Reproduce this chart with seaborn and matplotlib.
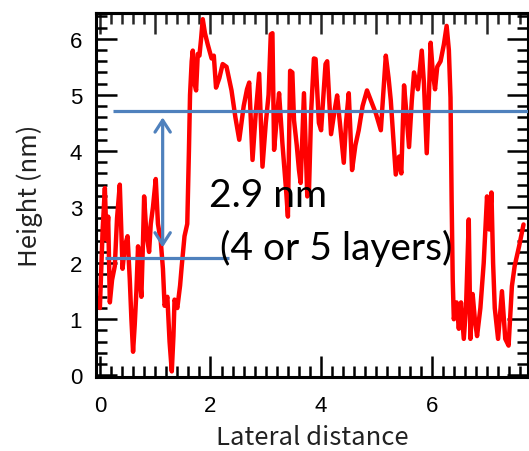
import numpy as np
import pandas as pd
import seaborn as sns
import matplotlib.pyplot as plt
from matplotlib.ticker import MultipleLocator

# height profile (lateral distance, height in nm)
distance = [
    0.00, 0.05, 0.09, 0.12, 0.15, 0.18, 0.22, 0.27, 0.31, 0.36, 0.41, 0.45, 0.50, 0.54, 0.57,
    0.60, 0.63, 0.66, 0.69, 0.72, 0.75, 0.78, 0.80, 0.83, 0.86, 0.89, 0.92, 0.96, 1.01, 1.05,
    1.10, 1.14, 1.17, 1.22, 1.26, 1.30, 1.33, 1.35, 1.40, 1.45, 1.48, 1.53, 1.58, 1.61, 1.63,
    1.66, 1.68, 1.71, 1.74, 1.77, 1.80, 1.83, 1.86, 1.90, 1.95, 2.02, 2.06, 2.10, 2.16, 2.22,
    2.29, 2.38, 2.45, 2.52, 2.60, 2.66, 2.70, 2.76, 2.82, 2.88, 2.94, 3.00, 3.05, 3.09, 3.12,
    3.15, 3.20, 3.24, 3.30, 3.37, 3.40, 3.44, 3.48, 3.51, 3.56, 3.60, 3.63, 3.69, 3.75, 3.78,
    3.82, 3.87, 3.90, 3.96, 4.00, 4.08, 4.11, 4.18, 4.24, 4.29, 4.35, 4.41, 4.45, 4.50, 4.56,
    4.62, 4.68, 4.75, 4.83, 4.90, 4.99, 5.08, 5.17, 5.22, 5.26, 5.35, 5.41, 5.45, 5.50, 5.54,
    5.59, 5.64, 5.68, 5.75, 5.82, 5.86, 5.91, 5.95, 5.98, 6.02, 6.06, 6.10, 6.16, 6.22, 6.27,
    6.31, 6.34, 6.36, 6.38, 6.40, 6.45, 6.49, 6.53, 6.58, 6.62, 6.67, 6.70, 6.74, 6.78, 6.82,
    6.88, 6.94, 7.00, 7.04, 7.08, 7.11, 7.14, 7.20, 7.27, 7.33, 7.39, 7.45, 7.50, 7.58, 7.66,
]
height = [
    1.20, 2.60, 3.34, 2.42, 2.83, 1.30, 1.70, 1.95, 2.80, 3.40, 1.90, 2.30, 2.48, 1.72, 1.00,
    0.42, 0.90, 1.50, 2.30, 1.80, 1.40, 2.40, 3.19, 2.70, 2.40, 2.20, 2.70, 3.00, 3.50, 2.70,
    2.40, 1.90, 1.24, 1.40, 0.60, 0.07, 0.70, 1.35, 1.20, 1.60, 1.95, 2.48, 2.70, 4.00, 5.00,
    5.60, 5.79, 5.20, 5.08, 5.73, 5.70, 6.00, 6.35, 6.10, 5.90, 5.65, 5.70, 5.13, 5.30, 5.55,
    5.50, 5.08, 4.60, 4.20, 4.80, 5.10, 5.22, 3.84, 4.70, 5.38, 3.72, 4.50, 5.00, 6.08, 6.10,
    4.02, 4.60, 5.03, 4.14, 3.26, 2.83, 5.43, 5.40, 4.55, 4.10, 3.66, 3.43, 5.03, 3.19, 3.26,
    4.70, 5.65, 5.64, 4.50, 4.37, 5.55, 5.60, 4.30, 4.70, 4.99, 4.40, 3.79, 4.50, 5.03, 3.66,
    4.10, 4.37, 4.80, 5.08, 4.90, 4.67, 4.37, 5.70, 5.30, 4.90, 3.58, 3.90, 3.60, 5.17, 4.70,
    4.07, 4.90, 5.40, 5.10, 5.79, 5.20, 3.96, 5.00, 5.93, 5.40, 5.10, 5.50, 5.60, 5.90, 6.23,
    5.80, 4.95, 3.13, 1.70, 1.00, 1.30, 0.83, 1.30, 0.65, 1.20, 2.78, 0.65, 1.45, 1.00, 0.70,
    1.20, 2.00, 3.19, 2.60, 3.26, 2.00, 1.20, 0.65, 1.50, 0.65, 0.53, 1.59, 1.95, 2.30, 2.69,
]

# step annotation: upper / lower terrace levels and the measured step
upper_level, lower_level = 4.72, 2.10
step_label = "2.9 nm"
layer_label = "(4 or 5 layers)"

df = pd.DataFrame({"Lateral distance": distance, "Height": height})

sns.set_style("ticks")
plt.rcParams["font.family"] = ["Liberation Sans", "DejaVu Sans"]

fig = plt.figure(figsize=(5.29, 4.52), dpi=100)
ax = fig.add_axes([0.1815, 0.1637, 0.8165, 0.8053])

sns.lineplot(data=df, x="Lateral distance", y="Height", ax=ax, color="#ff0000",
             linewidth=3.2, estimator=None, sort=False, zorder=2)

blue = "#4f81bd"
ax.hlines(upper_level, 0.23, 7.9, color=blue, linewidth=2.3, zorder=3)
ax.hlines(lower_level, 0.09, 2.34, color=blue, linewidth=2.3, zorder=3)
ax.annotate("", xy=(1.135, 4.60), xytext=(1.135, 2.28),
            arrowprops=dict(arrowstyle="<->,head_length=0.85,head_width=0.55",
                            color=blue, linewidth=2.3, shrinkA=0, shrinkB=0),
            zorder=3)

ax.text(1.97, 3.22, step_label, fontsize=28, family="Lato", va="center", ha="left",
        color="black")
ax.text(2.18, 2.28, layer_label, fontsize=28, family="Lato", va="center", ha="left",
        color="black")

ax.set_xlim(-0.07, 7.74)
ax.set_ylim(-0.03, 6.46)

ax.xaxis.set_major_locator(MultipleLocator(2))
ax.xaxis.set_minor_locator(MultipleLocator(0.2))
ax.yaxis.set_major_locator(MultipleLocator(1))
ax.yaxis.set_minor_locator(MultipleLocator(0.2))

ax.tick_params(which="both", direction="in", left=True, right=True, bottom=True, top=False,
               width=1.8, color="black", labelcolor="black")
ax.tick_params(which="major", length=15, labelsize=16)
ax.tick_params(which="minor", length=8)
ax.tick_params(axis="x", which="major", pad=13)
ax.tick_params(axis="y", which="major", pad=10)

# top axis carries a tick at every integer
top = ax.secondary_xaxis("top")
top.xaxis.set_major_locator(MultipleLocator(1))
top.xaxis.set_minor_locator(MultipleLocator(0.2))
top.tick_params(which="both", direction="in", width=1.8, labeltop=False)
top.tick_params(which="major", length=15)
top.tick_params(which="minor", length=8)
top.spines["top"].set_linewidth(2.2)

for s in ax.spines.values():
    s.set_linewidth(2.2)
    s.set_color("black")

ax.set_xlabel("Lateral distance", fontsize=18.5, family=["Noto Sans CJK JP", "DejaVu Sans"],
              labelpad=6, color="#222222")
ax.set_ylabel("Height (nm)", fontsize=18.5, family=["Noto Sans CJK JP", "DejaVu Sans"],
              labelpad=19, color="#222222")

fig.savefig("out.png", dpi=100)
